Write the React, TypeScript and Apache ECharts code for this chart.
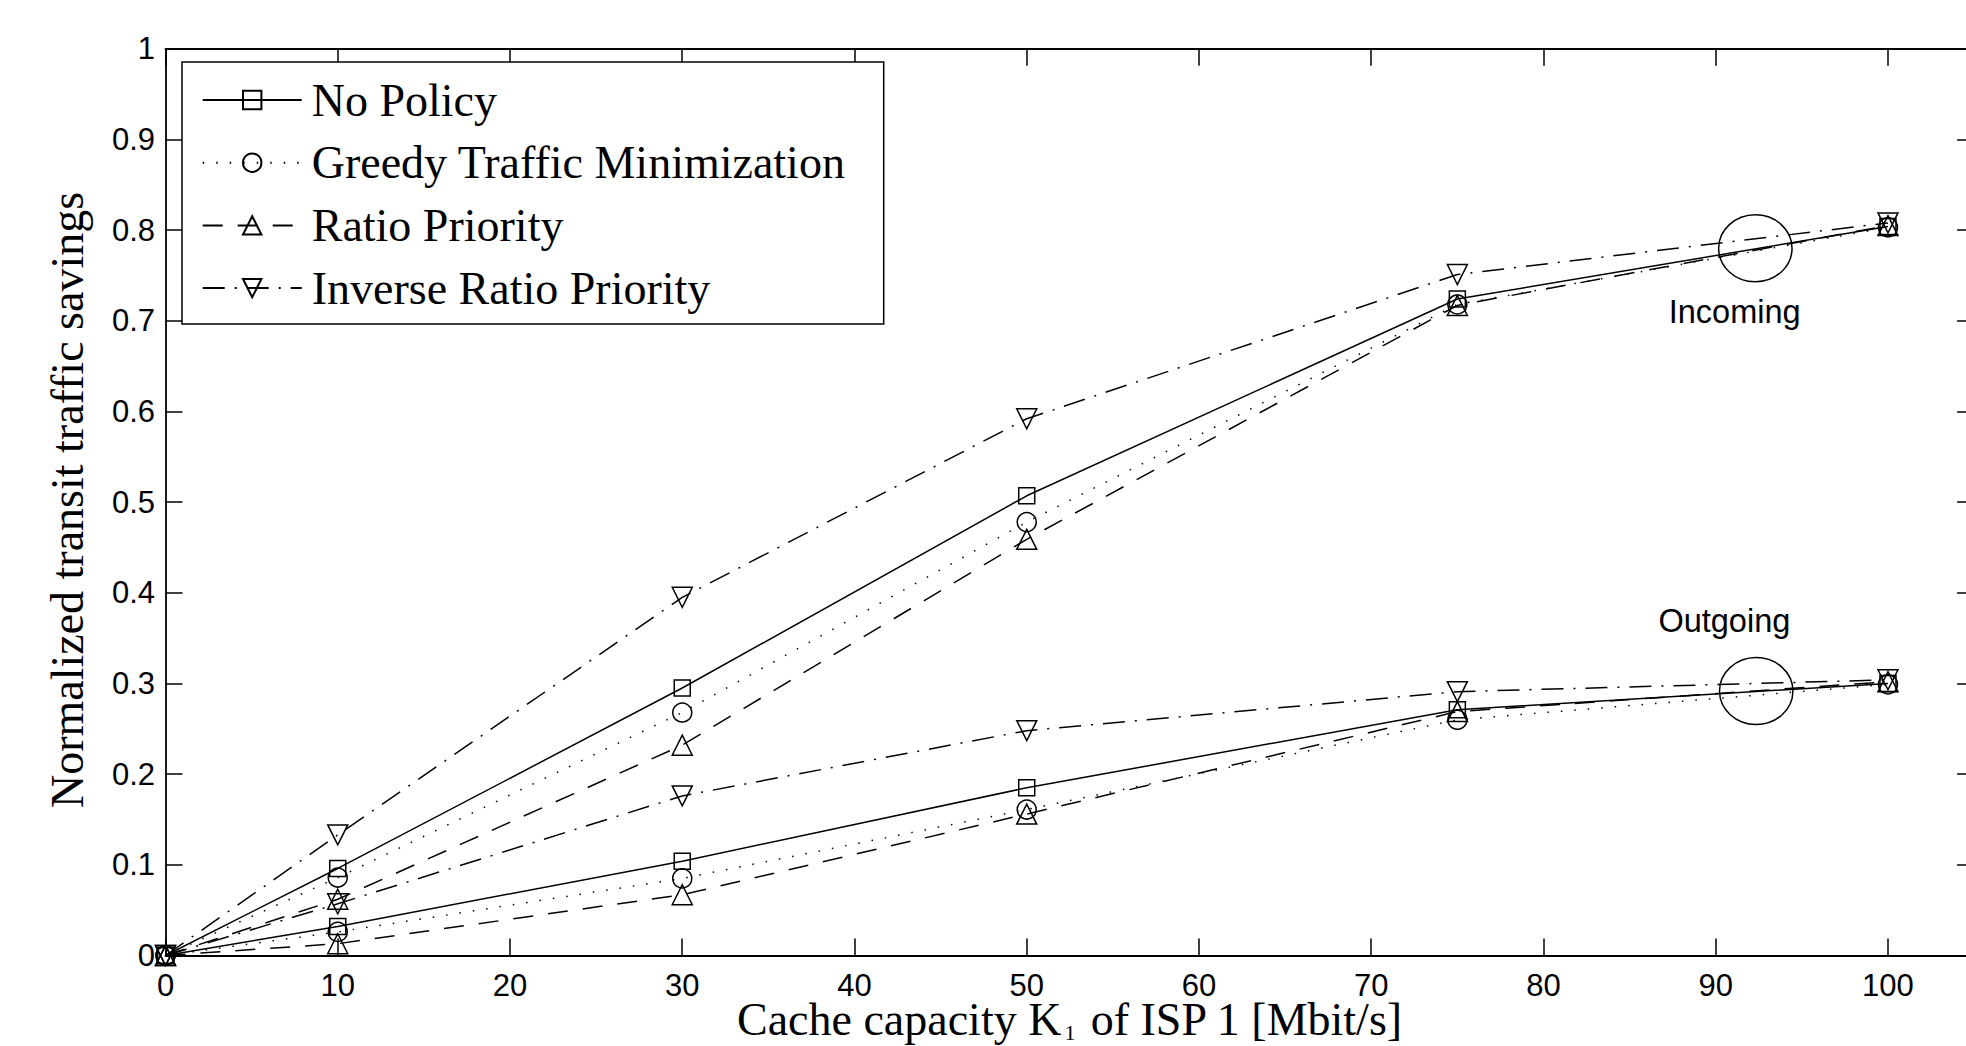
import React, { useEffect, useRef } from 'react';
import * as echarts from 'echarts';

// ---------- data ----------
const capacities = [0, 10, 30, 50, 75, 100];
const seriesNames = ['No Policy', 'Greedy Traffic Minimization', 'Ratio Priority', 'Inverse Ratio Priority'];

const incomingNoPolicy = [0, 0.096, 0.295, 0.507, 0.724, 0.804];
const incomingGreedy = [0, 0.086, 0.268, 0.478, 0.718, 0.803];
const incomingRatio = [0, 0.062, 0.232, 0.459, 0.717, 0.805];
const incomingInverse = [0, 0.133, 0.395, 0.592, 0.751, 0.808];

const outgoingNoPolicy = [0, 0.032, 0.104, 0.185, 0.271, 0.3];
const outgoingGreedy = [0, 0.026, 0.085, 0.161, 0.26, 0.299];
const outgoingRatio = [0, 0.013, 0.067, 0.156, 0.269, 0.302];
const outgoingInverse = [0, 0.057, 0.176, 0.248, 0.291, 0.304];

const annotationLabels = ['Incoming', 'Outgoing'];
const annotationLabelPos = [[91.1, 0.7097], [90.5, 0.369]];
const annotationEllipsePos = [[92.3, 0.78], [92.35, 0.2917]];

const xTitle = 'Cache capacity K';
const xTitleSub = '1';
const xTitleRest = ' of ISP 1 [Mbit/s]';
const yTitle = 'Normalized transit traffic savings';

// ---------- styles ----------
const SERIF = '"Liberation Serif", "Times New Roman", serif';
const SANS = '"Liberation Sans", Arial, Helvetica, sans-serif';

const seriesStyles = [
  { symbol: 'rect', size: 16, dash: 'solid' as any },
  { symbol: 'circle', size: 19, dash: [1.5, 12] },
  { symbol: 'triangle', size: 20, dash: [20, 15] },
  { symbol: 'path://M0,0L20,0L10,20Z', size: 20, dash: [22, 10, 2, 10] },
];

export default function App() {
  const ref = useRef<HTMLDivElement>(null);

  useEffect(() => {
    if (!ref.current) return;
    const chart = echarts.init(ref.current, null, { renderer: 'svg' });

    const groups = [
      [incomingNoPolicy, incomingGreedy, incomingRatio, incomingInverse],
      [outgoingNoPolicy, outgoingGreedy, outgoingRatio, outgoingInverse],
    ];

    const series: any[] = [];
    groups.forEach((grp) => {
      grp.forEach((vals, i) => {
        const st = seriesStyles[i];
        series.push({
          type: 'line',
          name: seriesNames[i],
          data: capacities.map((x, k) => [x, vals[k]]),
          symbol: st.symbol,
          symbolSize: st.size,
          showAllSymbol: true,
          clip: false,
          silent: true,
          emphasis: { disabled: true },
          lineStyle: { color: '#000', width: 1.5, type: st.dash },
          itemStyle: { color: 'rgba(0,0,0,0)', borderColor: '#000', borderWidth: 1.5 },
        });
      });
    });

    const axisLine = { show: true, onZero: false, lineStyle: { color: '#000', width: 1.8 } };
    const axisTick = { show: true, inside: true, length: 17, lineStyle: { color: '#000', width: 1.5 } };

    const option: any = {
      animation: false,
      backgroundColor: '#fff',
      grid: {
        left: 165.5, top: 48.8, width: 1808.6, height: 906.7,
        containLabel: false, outerBoundsMode: 'none',
      },
      xAxis: [
        {
          type: 'value', min: 0, max: 105, interval: 10, position: 'bottom',
          axisLine, axisTick, splitLine: { show: false },
          axisLabel: {
            margin: 15.5, fontSize: 31, lineHeight: 28, fontFamily: SANS, color: '#000', showMaxLabel: false,
            formatter: (v: number) => (v > 100 ? '' : String(v)),
          },
        },
        {
          type: 'value', min: 0, max: 105, interval: 10, position: 'top',
          axisLine, axisTick, splitLine: { show: false }, axisLabel: { show: false },
        },
      ],
      yAxis: [
        {
          type: 'value', min: 0, max: 1, interval: 0.1, position: 'left',
          axisLine, axisTick, splitLine: { show: false },
          axisLabel: { margin: 10.5, fontSize: 31, fontFamily: SANS, color: '#000', padding: [6, 0, 0, 0] },
        },
        {
          type: 'value', min: 0, max: 1, interval: 0.1, position: 'right',
          axisLine: { ...axisLine, show: false }, axisTick, splitLine: { show: false }, axisLabel: { show: false },
        },
      ],
      legend: {
        orient: 'vertical',
        left: 182,
        top: 62,
        data: seriesNames,
        itemWidth: 99,
        itemHeight: 23,
        itemGap: 16.7,
        padding: [15, 38, 13, 19.7],
        backgroundColor: '#fff',
        borderColor: '#000',
        borderWidth: 1.5,
        borderRadius: 0,
        selectedMode: false,
        textStyle: { fontFamily: SERIF, fontSize: 46, color: '#000', lineHeight: 46, padding: [0, 0, 0, 5] },
      },
      series,
    };

    chart.setOption(option);

    const graphics: any[] = [];
    annotationEllipsePos.forEach((p) => {
      const [cx, cy] = chart.convertToPixel({ gridIndex: 0 } as any, p) as number[];
      graphics.push({
        type: 'ellipse',
        shape: { cx, cy, rx: 36.7, ry: 33.5 },
        style: { fill: 'none', stroke: '#000', lineWidth: 1.5 },
        silent: true,
      });
    });
    annotationLabelPos.forEach((p, i) => {
      const [x, y] = chart.convertToPixel({ gridIndex: 0 } as any, p) as number[];
      graphics.push({
        type: 'text',
        x, y,
        style: {
          text: annotationLabels[i], fontSize: 32.5, fontFamily: SANS, fill: '#000',
          align: 'center', verticalAlign: 'middle',
        },
        silent: true,
      });
    });
    graphics.push({
      type: 'text',
      x: 67, y: 500,
      rotation: Math.PI / 2,
      style: {
        text: yTitle, fontSize: 46, fontFamily: SERIF, fill: '#000',
        align: 'center', verticalAlign: 'middle',
      },
      silent: true,
    });
    graphics.push({
      type: 'text',
      x: 1070, y: 996.5,
      style: {
        text: `{a|${xTitle}}{s|${xTitleSub}}{a|${xTitleRest}}`,
        fontSize: 46, fontFamily: SERIF, fill: '#000',
        align: 'center', verticalAlign: 'top',
        rich: {
          a: { fontSize: 46, fontFamily: SERIF, lineHeight: 38, verticalAlign: 'top', fill: '#000' },
          s: { fontSize: 22, fontFamily: SERIF, lineHeight: 16, verticalAlign: 'top', padding: [25, 3, 0, 3], fill: '#000' },
        },
      },
      silent: true,
    });

    chart.setOption({ graphic: graphics });

    return () => chart.dispose();
  }, []);

  return (
    <div
      ref={ref}
      style={{ position: 'fixed', left: 0, top: 0, width: 1966, height: 1046, background: '#fff' }}
    />
  );
}
